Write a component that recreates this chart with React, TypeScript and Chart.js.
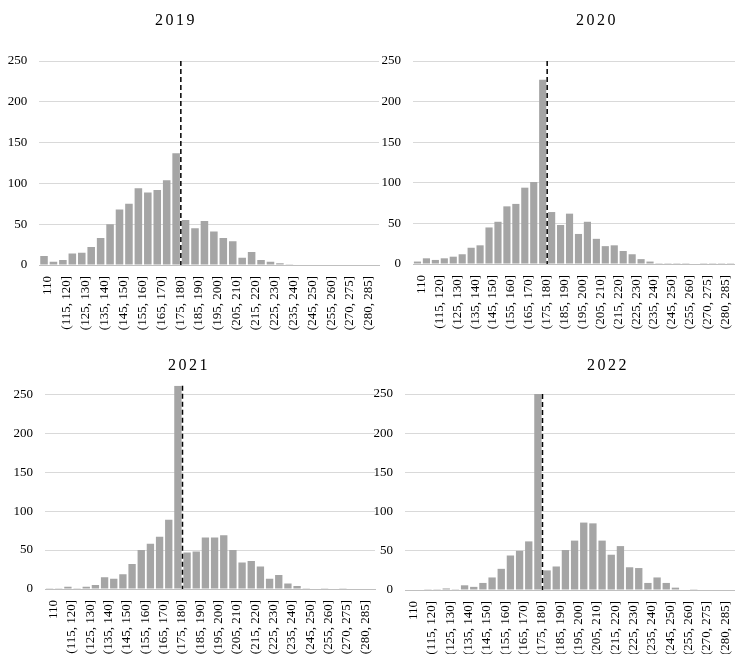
import React, { useEffect, useRef } from "react";
import { Chart, registerables } from "chart.js";

Chart.register(...registerables);

// ---------- data ----------
const categories = [
  "110", "(110, 115]", "(115, 120]", "(120, 125]", "(125, 130]", "(130, 135]",
  "(135, 140]", "(140, 145]", "(145, 150]", "(150, 155]", "(155, 160]", "(160, 165]",
  "(165, 170]", "(170, 175]", "(175, 180]", "(180, 185]", "(185, 190]", "(190, 195]",
  "(195, 200]", "(200, 205]", "(205, 210]", "(210, 215]", "(215, 220]", "(220, 225]",
  "(225, 230]", "(230, 235]", "(235, 240]", "(240, 245]", "(245, 250]", "(250, 255]",
  "(255, 260]", "(265, 270]", "(270, 275]", "(275, 280]", "(280, 285]", "(285, 290]",
];

const counts2019 = [11, 4, 6, 14, 15, 22, 33, 50, 68, 75, 94, 89, 92, 104, 137, 55, 45, 54, 41, 33, 29, 9, 16, 6, 4, 2, 1, 0, 0, 0, 0, 0, 0, 0, 0, 0];
const counts2020 = [3, 7, 5, 7, 9, 12, 20, 23, 45, 52, 71, 74, 94, 101, 227, 64, 48, 62, 37, 52, 31, 22, 23, 16, 12, 6, 3, 1, 1, 1, 1, 0, 1, 1, 1, 1];
const counts2021 = [1, 1, 3, 1, 3, 5, 15, 13, 19, 32, 50, 58, 67, 89, 261, 47, 48, 66, 66, 69, 50, 34, 36, 29, 13, 18, 7, 4, 1, 0, 1, 0, 1, 0, 0, 0];
const counts2022 = [0, 0, 1, 1, 2, 1, 6, 4, 9, 16, 27, 44, 50, 62, 250, 25, 30, 51, 63, 86, 85, 63, 45, 56, 29, 28, 9, 16, 9, 3, 0, 1, 0, 0, 0, 0];

const yearTitles = ["2019", "2020", "2021", "2022"];
const yAxisMax = [250, 250, 261, 250];
const yTickStep = 50;
const cutoffCategory = "(175, 180]";

// ---------- layout ----------
type Box = { left: number; top: number; width: number; height: number };
type Area = { left: number; top: number; right: number; bottom: number };

const panels: { title: string; data: number[]; yMax: number; canvas: Box; area: Area; titleX: number; titleY: number }[] = [
  { title: yearTitles[0], data: counts2019, yMax: yAxisMax[0], canvas: { left: 0, top: 0, width: 380, height: 340 }, area: { left: 39.3, top: 61, right: 379, bottom: 265 }, titleX: 176, titleY: 19.5 },
  { title: yearTitles[1], data: counts2020, yMax: yAxisMax[1], canvas: { left: 370, top: 0, width: 365, height: 340 }, area: { left: 413, top: 61, right: 735, bottom: 264 }, titleX: 597, titleY: 19.5 },
  { title: yearTitles[2], data: counts2021, yMax: yAxisMax[2], canvas: { left: 0, top: 330, width: 376, height: 324 }, area: { left: 45, top: 385.7, right: 375, bottom: 589 }, titleX: 189, titleY: 365 },
  { title: yearTitles[3], data: counts2022, yMax: yAxisMax[3], canvas: { left: 370, top: 330, width: 365, height: 324 }, area: { left: 405, top: 394, right: 735, bottom: 590 }, titleX: 608, titleY: 365 },
];

const FONT = "'Liberation Serif', 'Times New Roman', serif";

const cutoffPlugin = {
  id: "cutoffLine",
  afterDatasetsDraw(chart: any) {
    const xs = chart.scales.x;
    const ca = chart.chartArea;
    const i = categories.indexOf(cutoffCategory);
    const px = (xs.getPixelForValue(i) + xs.getPixelForValue(i + 1)) / 2;
    const ctx = chart.ctx;
    ctx.save();
    ctx.strokeStyle = "#000";
    ctx.lineWidth = 1.5;
    ctx.setLineDash([5, 3]);
    ctx.beginPath();
    ctx.moveTo(px, ca.top);
    ctx.lineTo(px, ca.bottom);
    ctx.stroke();
    ctx.restore();
  },
};

function Panel({ p }: { p: (typeof panels)[number] }) {
  const ref = useRef<HTMLCanvasElement | null>(null);
  useEffect(() => {
    if (!ref.current) return;
    const c = p.canvas;
    const a = p.area;
    const yW = a.left - c.left;
    const xH = c.top + c.height - a.bottom;
    const chart = new Chart(ref.current, {
      type: "bar",
      data: {
        labels: categories,
        datasets: [
          {
            data: p.data,
            backgroundColor: "#a5a5a5",
            borderWidth: 0,
            categoryPercentage: 1,
            barPercentage: 0.8,
          },
        ],
      },
      options: {
        responsive: false,
        animation: false,
        devicePixelRatio: 1,
        layout: {
          padding: { top: a.top - c.top, right: c.left + c.width - a.right, left: 0, bottom: 0 },
        },
        plugins: { legend: { display: false }, tooltip: { enabled: false }, title: { display: false } },
        scales: {
          x: {
            grid: { display: false },
            border: { display: true, color: "#bfbfbf", width: 1 },
            ticks: {
              autoSkip: false,
              maxRotation: 90,
              minRotation: 90,
              padding: 3,
              labelOffset: 4,
              color: "#000",
              font: { family: FONT, size: 13 },
              callback: (_v: any, i: number) => (i % 2 === 0 ? categories[i] : ""),
            },
            afterFit: (s: any) => {
              s.height = xH;
              s.paddingLeft = 0;
              s.paddingRight = 0;
            },
          },
          y: {
            min: 0,
            max: p.yMax,
            grid: { color: "#d9d9d9", drawTicks: false, lineWidth: 1 },
            border: { display: false },
            ticks: {
              stepSize: yTickStep,
              includeBounds: false,
              padding: 12,
              color: "#000",
              font: { family: FONT, size: 13 },
            },
            afterFit: (s: any) => {
              s.width = yW;
              s.paddingTop = 0;
              s.paddingBottom = 0;
            },
          },
        },
      },
      plugins: [cutoffPlugin],
    });
    return () => chart.destroy();
  }, [p]);
  return (
    <>
      <canvas
        ref={ref}
        width={p.canvas.width}
        height={p.canvas.height}
        style={{ position: "absolute", left: p.canvas.left, top: p.canvas.top, width: p.canvas.width, height: p.canvas.height }}
      />
      <div
        style={{
          position: "absolute",
          left: p.titleX - 60,
          top: p.titleY - 10,
          width: 120,
          height: 20,
          lineHeight: "20px",
          textAlign: "center",
          fontFamily: FONT,
          fontSize: 16,
          letterSpacing: "2.5px",
          color: "#000",
        }}
      >
        {p.title}
      </div>
    </>
  );
}

export default function App() {
  return (
    <div style={{ position: "absolute", left: 0, top: 0, width: 735, height: 654, background: "#fff", overflow: "hidden" }}>
      {panels.map((p) => (
        <Panel key={p.title} p={p} />
      ))}
    </div>
  );
}
